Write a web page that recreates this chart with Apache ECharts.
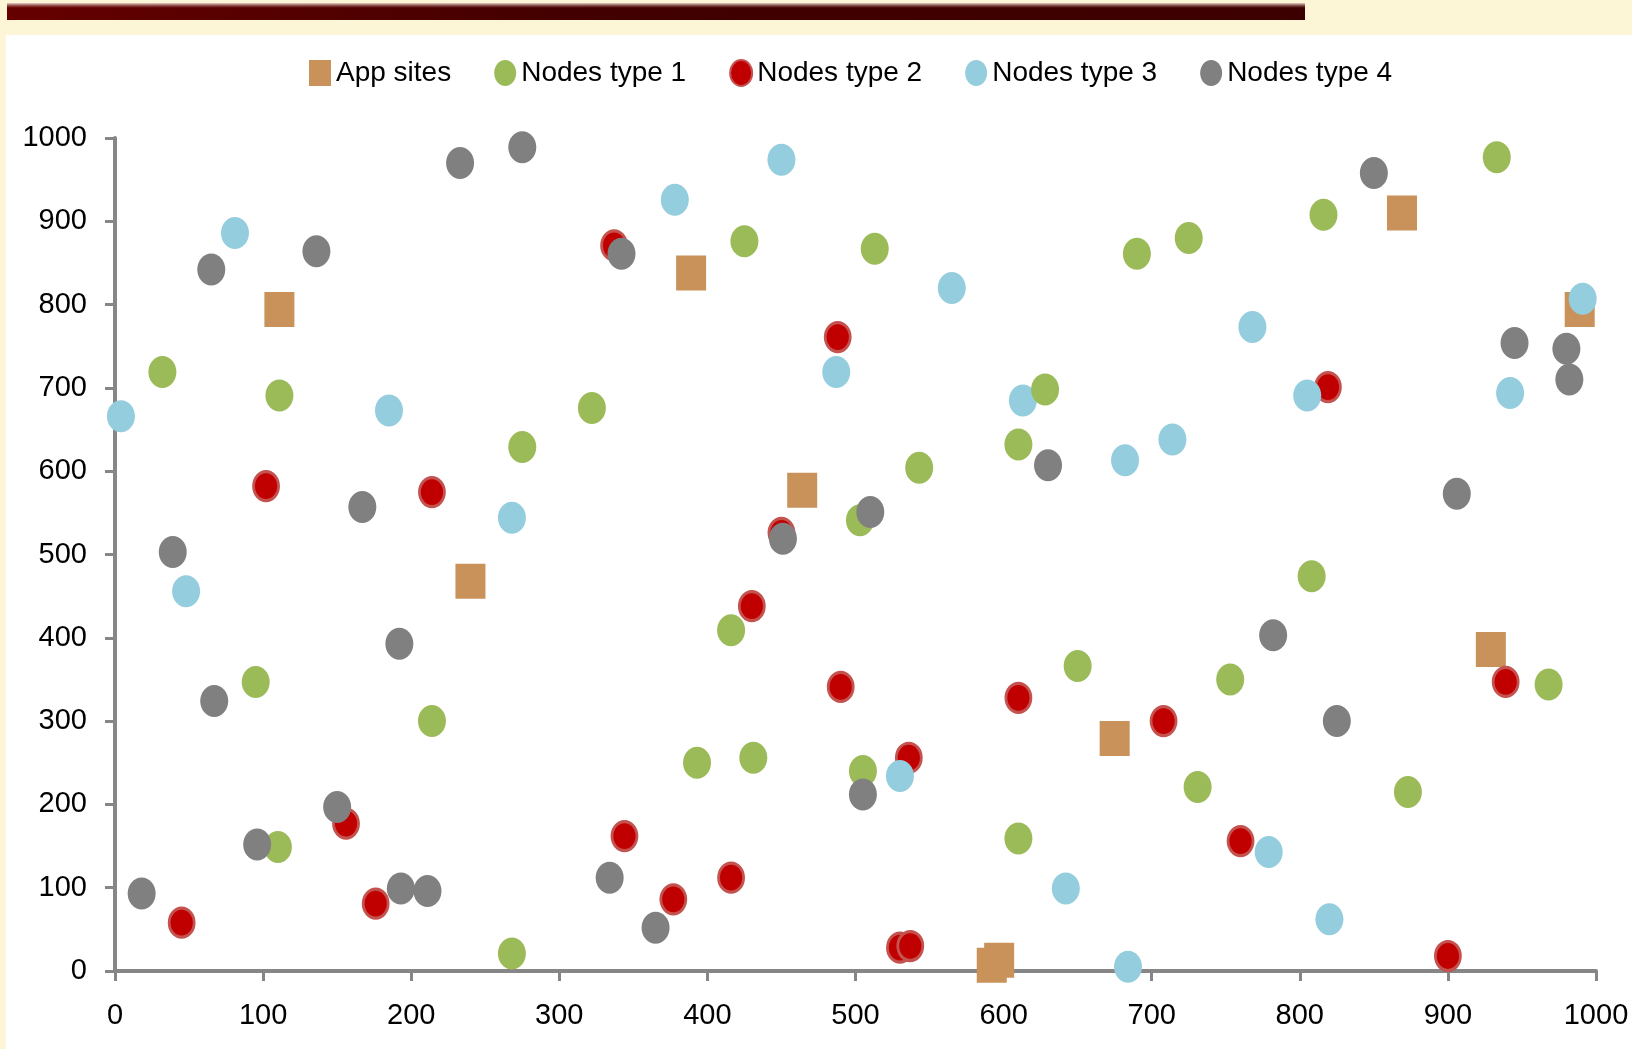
<!DOCTYPE html>
<html>
<head>
<meta charset="utf-8">
<title>App sites and nodes</title>
<script src="https://cdn.jsdelivr.net/npm/echarts@6/dist/echarts.min.js"></script>
<style>
  html, body { margin: 0; padding: 0; background: #FCF6D7; }
  #chart { width: 1632px; height: 1049px; }
</style>
</head>
<body>
<div id="chart"></div>
<script>
// Positions of application sites and of the four node types on a 1000 x 1000 field
const seriesNames = ['App sites', 'Nodes type 1', 'Nodes type 2', 'Nodes type 3', 'Nodes type 4'];
const axisTicks = [0, 100, 200, 300, 400, 500, 600, 700, 800, 900, 1000];

const appSitesX = [111, 240, 389, 464, 592, 597, 675, 869, 929, 989];
const appSitesY = [794, 468, 838, 577, 7, 13, 279, 910, 386, 794];

const type1X = [32, 95, 110, 111, 214, 268, 275, 322, 393, 416, 425, 431, 503, 505, 513, 543, 610, 610, 628, 650, 690, 725, 731, 753, 808, 816, 873, 933, 968];
const type1Y = [719, 347, 149, 691, 300, 21, 629, 676, 250, 409, 876, 256, 541, 240, 867, 604, 632, 159, 698, 366, 861, 880, 221, 350, 474, 908, 215, 977, 344];

const type2X = [45, 102, 156, 176, 214, 337, 344, 377, 416, 430, 450, 488, 490, 530, 536, 537, 610, 708, 760, 819, 900, 939];
const type2Y = [58, 582, 177, 81, 575, 871, 162, 86, 112, 438, 526, 761, 341, 28, 256, 30, 328, 300, 156, 701, 18, 347];

const type3X = [4, 48, 81, 185, 268, 378, 450, 487, 530, 565, 613, 642, 682, 684, 714, 768, 779, 805, 820, 942, 991];
const type3Y = [666, 456, 886, 673, 544, 926, 974, 719, 234, 820, 685, 99, 613, 5, 638, 773, 143, 691, 62, 694, 807];

const type4X = [18, 39, 65, 67, 96, 136, 150, 167, 192, 193, 211, 233, 275, 334, 342, 365, 451, 505, 510, 630, 782, 825, 850, 906, 945, 980, 982];
const type4Y = [93, 503, 842, 324, 152, 864, 197, 557, 393, 99, 96, 970, 989, 112, 861, 52, 519, 212, 551, 607, 403, 300, 958, 573, 754, 747, 710];

function pairs(xs, ys) {
  return xs.map((x, i) => [x, ys[i]]);
}

// Ellipse outline built from cubic curves so it stretches to any width/height
const ellipse = 'path://M1,0C1.552,0,2,0.448,2,1C2,1.552,1.552,2,1,2C0.448,2,0,1.552,0,1C0,0.448,0.448,0,1,0Z';

const FONT = '"Liberation Sans", Arial, sans-serif';
const AXIS_GRAY = '#868686';

const chart = echarts.init(document.getElementById('chart'), null, { renderer: 'canvas' });

const axisCommon = {
  type: 'value',
  min: axisTicks[0],
  max: axisTicks[axisTicks.length - 1],
  interval: axisTicks[1] - axisTicks[0],
  splitLine: { show: false },
  axisLine: { show: true, onZero: false, lineStyle: { color: AXIS_GRAY, width: 4 } },
  axisTick: { show: true, inside: false, length: 10, lineStyle: { color: AXIS_GRAY, width: 3 } },
  axisLabel: { color: '#000', fontSize: 29, fontFamily: FONT, formatter: v => String(v) }
};

chart.setOption({
  backgroundColor: '#FCF6D7',
  animation: false,
  graphic: [
    // white panel behind the plot
    { type: 'rect', z: -10, shape: { x: 6, y: 35, width: 1626, height: 1014 }, style: { fill: '#FFFFFF' } },
    // dark banner across the top
    { type: 'rect', z: -10, shape: { x: 7, y: 3, width: 1298, height: 17 },
      style: { fill: new echarts.graphic.LinearGradient(0, 0, 1, 0, [
        { offset: 0, color: '#660000' },
        { offset: 0.45, color: '#420000' },
        { offset: 1, color: '#3D0000' }
      ]) } },
    { type: 'rect', z: -9, shape: { x: 7, y: 3, width: 1298, height: 5 },
      style: { fill: new echarts.graphic.LinearGradient(0, 0, 0, 1, [
        { offset: 0, color: 'rgba(240,225,215,0.95)' },
        { offset: 1, color: 'rgba(180,120,110,0)' }
      ]) } }
  ],
  grid: { left: 115, right: 36, top: 138, bottom: 78, containLabel: false },
  legend: {
    left: 309,
    top: 59,
    padding: 0,
    itemWidth: 22,
    itemHeight: 26,
    itemGap: 43,
    symbolKeepAspect: false,
    selectedMode: false,
    textStyle: { color: '#000', fontSize: 28, fontFamily: FONT },
    data: seriesNames.map(n => ({ name: n }))
  },
  xAxis: Object.assign({}, axisCommon, {
    axisLabel: Object.assign({}, axisCommon.axisLabel, { margin: 30 })
  }),
  yAxis: Object.assign({}, axisCommon, {
    axisLabel: Object.assign({}, axisCommon.axisLabel, { margin: 28 })
  }),
  series: [
    {
      name: seriesNames[0], type: 'scatter', z: 2, clip: false,
      symbol: 'rect', symbolSize: [30, 35],
      itemStyle: { color: '#C8925A', opacity: 1 },
      data: pairs(appSitesX, appSitesY)
    },
    {
      name: seriesNames[1], type: 'scatter', z: 5, clip: false,
      symbol: ellipse, symbolSize: [28, 32],
      itemStyle: { color: '#9BBB59', opacity: 1 },
      data: pairs(type1X, type1Y)
    },
    {
      name: seriesNames[2], type: 'scatter', z: 3, clip: false,
      symbol: ellipse, symbolSize: [25, 29],
      itemStyle: { color: '#C00000', borderColor: '#C4524F', borderWidth: 3, opacity: 1 },
      data: pairs(type2X, type2Y)
    },
    {
      name: seriesNames[3], type: 'scatter', z: 4, clip: false,
      symbol: ellipse, symbolSize: [28, 32],
      itemStyle: { color: '#94CDDD', opacity: 1 },
      data: pairs(type3X, type3Y)
    },
    {
      name: seriesNames[4], type: 'scatter', z: 6, clip: false,
      symbol: ellipse, symbolSize: [28, 32],
      itemStyle: { color: '#808080', opacity: 1 },
      data: pairs(type4X, type4Y)
    }
  ]
});
</script>
</body>
</html>
